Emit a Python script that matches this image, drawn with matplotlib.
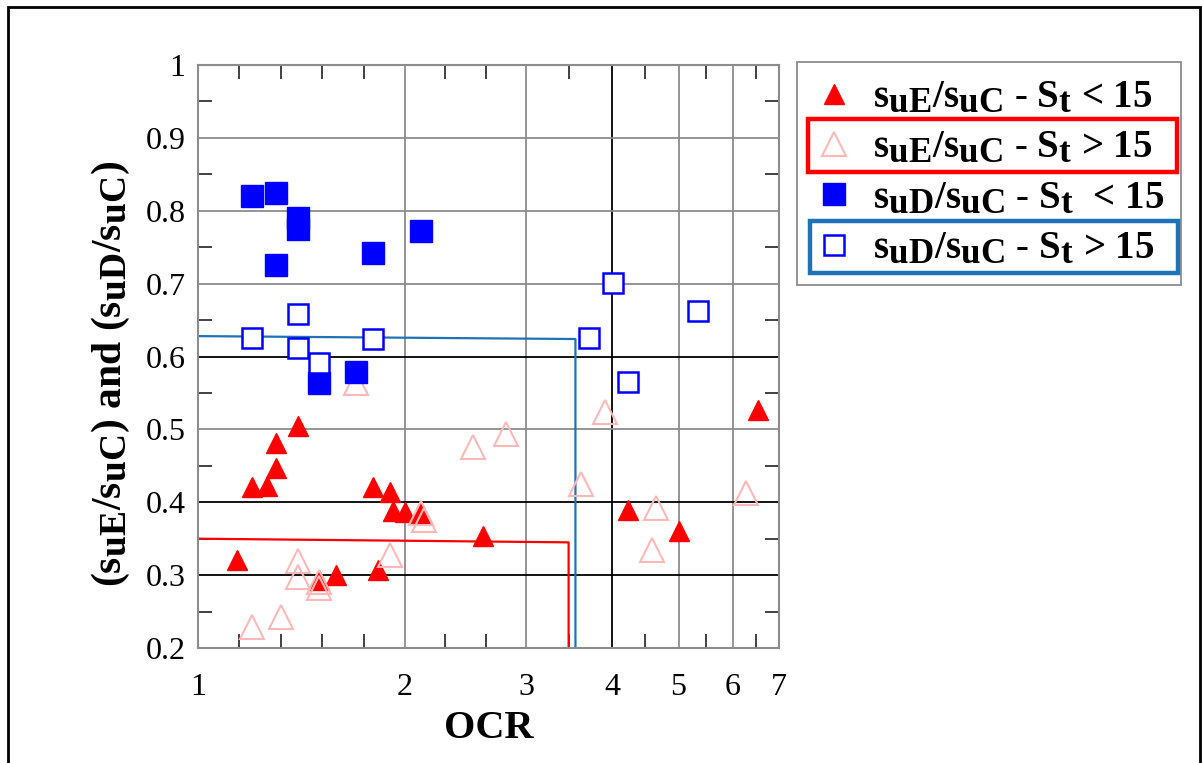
import numpy as np
import matplotlib
matplotlib.use("Agg")
import matplotlib.pyplot as plt
from matplotlib.patches import Rectangle
from matplotlib.ticker import FixedLocator, NullFormatter

try:
    # subscripts in the original are nearly full size
    import matplotlib._mathtext as _mt
    _mt.SHRINK_FACTOR = 0.9
except Exception:
    pass

plt.rcParams["font.family"] = ["Liberation Serif", "DejaVu Serif"]
plt.rcParams["mathtext.fontset"] = "custom"
plt.rcParams["mathtext.rm"] = "Liberation Serif"
plt.rcParams["mathtext.bf"] = "Liberation Serif:bold"
plt.rcParams["mathtext.it"] = "Liberation Serif:italic"

# suE/suC, St < 15 (filled red triangles)
e_lo_ocr = [1.40, 1.30, 1.30, 1.20, 1.26, 1.80, 1.90, 1.92, 2.00, 2.10, 2.60, 1.14, 1.50, 1.59, 1.83, 4.22, 5.00, 6.52]
e_lo_val = [0.505, 0.481, 0.447, 0.421, 0.422, 0.421, 0.414, 0.388, 0.387, 0.385, 0.354, 0.321, 0.293, 0.300, 0.307, 0.389, 0.360, 0.526]

# suE/suC, St > 15 (hollow pink triangles)
e_hi_ocr = [1.70, 2.51, 2.81, 3.91, 3.61, 2.11, 2.13, 1.90, 1.40, 1.40, 1.50, 1.50, 1.20, 1.32, 4.63, 4.58, 6.27]
e_hi_val = [0.564, 0.476, 0.494, 0.524, 0.425, 0.385, 0.376, 0.328, 0.320, 0.298, 0.290, 0.283, 0.229, 0.243, 0.392, 0.334, 0.413]

# suD/suC, St < 15 (filled blue squares)
d_lo_ocr = [1.20, 1.30, 1.40, 1.40, 1.30, 1.80, 2.11, 1.50, 1.70]
d_lo_val = [0.820, 0.825, 0.790, 0.775, 0.725, 0.742, 0.772, 0.564, 0.579]

# suD/suC, St > 15 (hollow blue squares)
d_hi_ocr = [1.20, 1.40, 1.40, 1.50, 1.80, 4.01, 5.33, 3.71, 4.22]
d_hi_val = [0.625, 0.658, 0.611, 0.591, 0.624, 0.701, 0.662, 0.625, 0.565]

# reference lines
red_line_x = [1.0, 3.46, 3.46]
red_line_y = [0.350, 0.345, 0.2]
blue_line_x = [1.0, 3.54, 3.54]
blue_line_y = [0.628, 0.624, 0.2]

x_ticks = [1, 2, 3, 4, 5, 6, 7]
y_ticks = [0.2, 0.3, 0.4, 0.5, 0.6, 0.7, 0.8, 0.9, 1.0]
y_tick_labels = ["0.2", "0.3", "0.4", "0.5", "0.6", "0.7", "0.8", "0.9", "1"]

labels = [
    r"$\mathbf{s_{uE}/s_{uC}}$ - $\mathbf{S_t}$ < 15",
    r"$\mathbf{s_{uE}/s_{uC}}$ - $\mathbf{S_t}$ > 15",
    r"$\mathbf{s_{uD}/s_{uC}}$ - $\mathbf{S_t}$  < 15",
    r"$\mathbf{s_{uD}/s_{uC}}$ - $\mathbf{S_t}$ > 15",
]

red = "#ff0000"
pink = "#ffb8b8"
blue = "#0000ff"
line_blue = "#1f72b8"

fig = plt.figure(figsize=(12.02, 7.63), dpi=100)
ax = fig.add_axes([0.1647, 0.1507, 0.4834, 0.7641])
ax.set_xscale("log")
ax.set_xlim(1, 7)
ax.set_ylim(0.2, 1.0)

# grid
for xv in [2, 3, 4, 5, 6]:
    ax.axvline(xv, color="black" if xv == 4 else "#8c8c8c", lw=1.3, zorder=1)
for yv in [0.3, 0.4, 0.5, 0.6, 0.7, 0.8, 0.9]:
    ax.axhline(yv, color="black" if yv in (0.3, 0.4, 0.6) else "#8c8c8c", lw=1.3, zorder=1)

ax.plot(red_line_x, red_line_y, color=red, lw=1.6, zorder=2)
ax.plot(blue_line_x, blue_line_y, color=line_blue, lw=1.6, zorder=2)

h1, = ax.plot(e_lo_ocr, e_lo_val, ls="none", marker="^", ms=14, color=red, mec=red, zorder=3)
h2, = ax.plot(e_hi_ocr, e_hi_val, ls="none", marker="^", ms=17, mfc="none", mec=pink, mew=1.5, zorder=4)
h3, = ax.plot(d_lo_ocr, d_lo_val, ls="none", marker="s", ms=15.5, color=blue, mec=blue, zorder=5)
h4, = ax.plot(d_hi_ocr, d_hi_val, ls="none", marker="s", ms=14, mfc="white", mec=blue, mew=1.8, zorder=6)

ax.xaxis.set_major_locator(FixedLocator(x_ticks))
ax.set_xticklabels([str(v) for v in x_ticks])
minor_x = []
for a, b, n in [(1, 2, 5), (2, 3, 3), (3, 4, 2), (4, 5, 2), (5, 6, 2), (6, 7, 2)]:
    minor_x += list(np.geomspace(a, b, n + 1)[1:-1])
ax.xaxis.set_minor_locator(FixedLocator(minor_x))
ax.xaxis.set_minor_formatter(NullFormatter())
ax.set_yticks(y_ticks)
ax.set_yticklabels(y_tick_labels)
ax.yaxis.set_minor_locator(FixedLocator(np.arange(0.25, 1.0, 0.1)))

ax.tick_params(which="both", direction="in", top=True, right=True, color="#333333", width=1.3)
ax.tick_params(which="major", length=0, labelsize=23, pad=9)
ax.tick_params(axis="x", which="major", pad=18)
ax.tick_params(which="minor", length=10)
for sp in ax.spines.values():
    sp.set_color("#8c8c8c")
    sp.set_linewidth(1.5)

ax.set_xlabel("OCR", fontsize=29, fontweight="bold", labelpad=6)
ax.set_ylabel(r"($\mathbf{s_{uE}/s_{uC}}$) and ($\mathbf{s_{uD}/s_{uC}}$)",
              fontsize=30, fontweight="bold")
ax.yaxis.set_label_coords(-0.113, 0.47)

leg = fig.legend([h1, h2, h3, h4], labels, loc="upper left",
                 bbox_to_anchor=(797 / 1202, 1 - 62 / 763), bbox_transform=fig.transFigure,
                 prop={"size": 28, "weight": "bold"}, frameon=True, fancybox=False,
                 framealpha=1, edgecolor="#8c8c8c", borderpad=0.45, labelspacing=0.34,
                 handletextpad=0.5, handlelength=1.0, borderaxespad=0)
leg.get_frame().set_linewidth(1.3)

# highlight boxes around two legend rows
fig.patches.append(Rectangle((808 / 1202, 1 - 172 / 763), 369 / 1202, 53 / 763,
                             transform=fig.transFigure, fill=False, ec=red, lw=3.2, zorder=10))
fig.patches.append(Rectangle((810 / 1202, 1 - 273 / 763), 368 / 1202, 52 / 763,
                             transform=fig.transFigure, fill=False, ec=line_blue, lw=3.2, zorder=10))

# outer frame
fig.patches.append(Rectangle((8 / 1202, -0.01), 1192 / 1202, 1 - 7 / 763 + 0.01,
                             transform=fig.transFigure, fill=False, ec="black", lw=2, zorder=10))

fig.savefig("out.png", dpi=100)
